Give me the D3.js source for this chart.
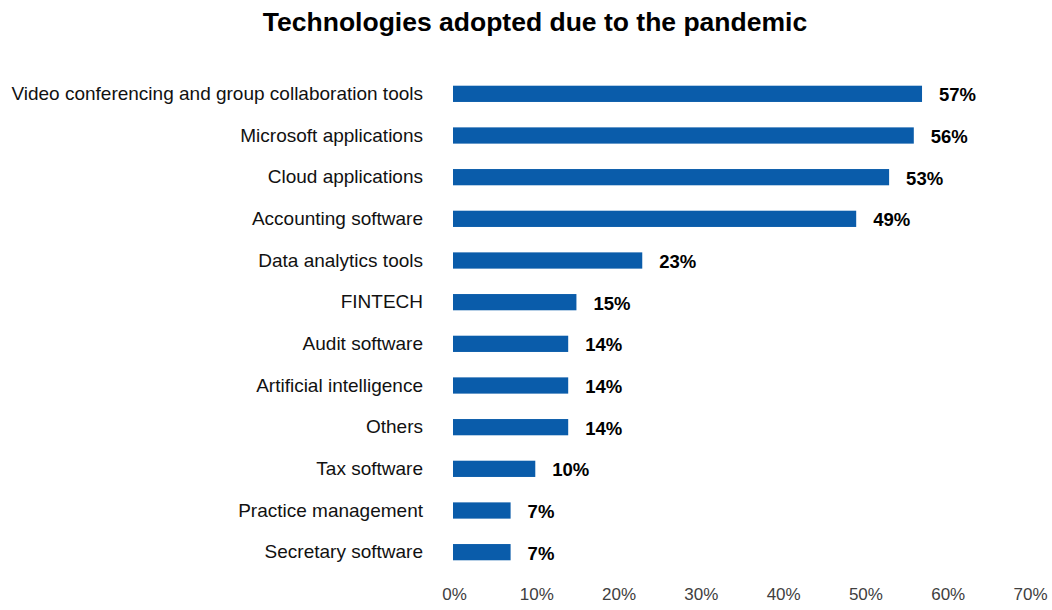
<!DOCTYPE html>
<html>
<head>
<meta charset="utf-8">
<script src="https://cdn.jsdelivr.net/npm/d3@7"></script>
<style>
  html, body { margin: 0; padding: 0; background: #fff; }
  svg { display: block; font-family: "Liberation Sans", Arial, sans-serif; }
</style>
</head>
<body>
<svg id="chart" width="1052" height="610"></svg>
<script>
const categories = [
  "Video conferencing and group collaboration tools",
  "Microsoft applications",
  "Cloud applications",
  "Accounting software",
  "Data analytics tools",
  "FINTECH",
  "Audit software",
  "Artificial intelligence",
  "Others",
  "Tax software",
  "Practice management",
  "Secretary software"
];
const values = [57, 56, 53, 49, 23, 15, 14, 14, 14, 10, 7, 7];
const tickValues = [0, 10, 20, 30, 40, 50, 60, 70];

const svg = d3.select("#chart");

svg.append("text")
  .attr("x", 535)
  .attr("y", 31)
  .attr("text-anchor", "middle")
  .attr("font-size", 26.5)
  .attr("font-weight", "bold")
  .attr("fill", "#000")
  .text("Technologies adopted due to the pandemic");

const x = d3.scaleLinear().domain([0, 70]).range([453, 1029]);
const y = d3.scaleBand().domain(categories).range([73, 573]).paddingInner(0.61).paddingOuter(0.305);

// bars
svg.append("g").selectAll("rect")
  .data(values)
  .join("rect")
  .attr("x", x(0))
  .attr("y", (d, i) => y(categories[i]))
  .attr("width", d => x(d) - x(0))
  .attr("height", y.bandwidth())
  .attr("fill", "#0A5CAA");

// value labels
svg.append("g").selectAll("text")
  .data(values)
  .join("text")
  .attr("x", d => x(d) + 17)
  .attr("y", (d, i) => y(categories[i]) + y.bandwidth() / 2 + 1)
  .attr("dy", "0.36em")
  .attr("font-size", 18.5)
  .attr("font-weight", "bold")
  .attr("fill", "#000")
  .text(d => d + "%");

// category axis
const yAxis = d3.axisLeft(y).tickSize(0).tickPadding(0);
const gy = svg.append("g").attr("transform", "translate(423,0)").call(yAxis);
gy.select(".domain").remove();
gy.selectAll("text").attr("font-size", 19).attr("fill", "#111").attr("font-family", "Liberation Sans, Arial, sans-serif");

// value axis
const xAxis = d3.axisBottom(x).tickValues(tickValues).tickFormat(d => d + "%").tickSize(0).tickPadding(0);
const gx = svg.append("g").attr("transform", "translate(1,588)").call(xAxis);
gx.select(".domain").remove();
gx.selectAll("text").attr("font-size", 17).attr("fill", "#404040").attr("font-family", "Liberation Sans, Arial, sans-serif");
</script>
</body>
</html>
